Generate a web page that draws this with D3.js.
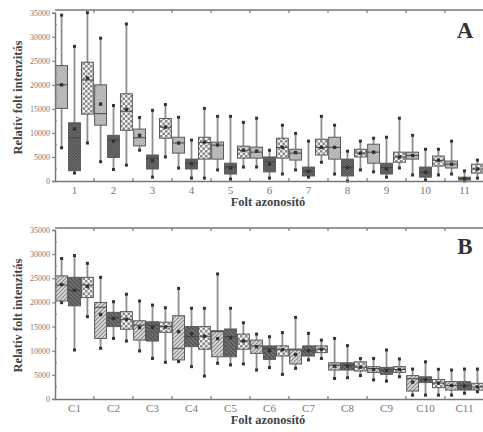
<!DOCTYPE html>
<html><head><meta charset="utf-8">
<script src="https://cdn.jsdelivr.net/npm/d3@7"></script>
<style>body{margin:0;background:#fff}svg{display:block}text{font-family:"Liberation Serif","DejaVu Serif",serif}</style>
</head><body>
<svg id="c" width="483" height="432"></svg>
<script>
// ---- data ----
// each box: [min, q1, median, q3, max, mean]
const categoriesA = ["1","2","3","4","5","6","7","8","9","10","11"];
const categoriesB = ["C1","C2","C3","C4","C5","C6","C7","C8","C9","C10","C11"];
const yTicks = [0,5000,10000,15000,20000,25000,30000,35000];

const seriesA1 = [
 [6900,15100,20000,24000,34500,20000],[4000,11600,14000,20000,29700,16000],[6400,7300,9000,10800,13200,9500],
 [2700,5800,7900,9100,13250,7900],[2300,4550,7450,8100,13450,7500],[2900,4750,6000,7050,13050,6200],
 [2300,4350,5800,6600,9900,5900],[1450,4550,7000,9100,11600,7000],[1900,3700,6000,7650,8900,6000],
 [1250,4550,5300,6000,9500,5300],[1450,2700,3500,4150,8300,3500]];
const seriesA2 = [
 [1650,2150,9000,12100,28000,10800],[2400,4900,8500,9500,15700,8300],[800,2500,4700,5400,14700,4200],
 [600,2500,3700,4550,8500,3600],[400,1450,2900,3700,13450,2700],[600,1900,4000,5000,6400,3500],
 [800,1050,2000,2900,8300,2000],[0,1050,2800,4550,6200,2800],[800,1450,2800,3700,9100,2500],
 [200,800,1800,2900,6600,1800],[0,200,500,800,2100,500]];
const seriesA3 = [
 [7900,13900,21000,24700,35000,21400],[3300,10550,14500,18150,32650,14900],[5000,8900,11200,13000,15900,11200],
 [600,4550,8000,9100,15100,8100],[2900,4750,6400,7250,12200,6400],[1450,4750,7000,8900,11600,7000],
 [3900,5400,7000,8700,13450,7000],[2300,5000,5800,6600,8300,5800],[2700,3900,5000,6000,13050,5000],
 [1250,3100,4300,5200,6600,4300],[600,1650,2500,3500,4350,2500]];

const seriesB1 = [
 [19950,20300,23600,25500,29100,23700],[10500,12550,19000,20000,25200,17500],[9950,12200,15300,16200,20300,14800],
 [7750,8100,10500,17250,22900,13950],[7400,8750,13950,14150,25900,12500],[6000,9450,11000,12200,13450,10800],
 [6350,7250,10150,10350,16900,9200],[4250,6000,7000,7500,12550,6800],[3950,5500,6300,6700,8400,6100],
 [800,1650,4200,4850,6200,3500],[800,1850,2800,3600,6000,2800]];
const seriesB2 = [
 [10150,19300,22500,25200,29700,22500],[12550,15000,16800,17950,20150,16700],[8400,12000,15300,16000,19450,14800],
 [6700,10850,12900,15000,18800,13500],[7050,8750,12900,14500,18800,12700],[6500,8200,10500,11000,12900,10000],
 [8100,8900,10000,11000,13600,10000],[4400,6000,7000,7500,11050,6800],[3700,5100,6000,6550,10150,5900],
 [800,3400,4000,4600,7700,4000],[1200,1850,2800,3600,6200,2700]];
const seriesB3 = [
 [17050,21000,23600,25200,28100,23300],[12000,14450,16500,18100,21700,16500],[7600,13800,15000,15900,18900,14900],
 [4750,10300,13000,15000,18800,13000],[7250,10300,12000,13450,15800,12000],[5100,8900,10200,11000,13750,10200],
 [8400,9600,10300,11000,12200,10300],[4850,5800,6600,7700,8400,6600],[4600,5500,6100,6700,8300,6100],
 [800,2350,3300,4050,6150,3300],[1500,1850,2500,3250,6200,2500]];

// ---- drawing ----
const svg = d3.select("#c");
const defs = svg.append("defs");

function patChecker(id, bg, fg, s){
  const p = defs.append("pattern").attr("id",id).attr("patternUnits","userSpaceOnUse").attr("width",s*2).attr("height",s*2);
  p.append("rect").attr("width",s*2).attr("height",s*2).attr("fill",bg);
  p.append("rect").attr("width",s).attr("height",s).attr("fill",fg);
  p.append("rect").attr("x",s).attr("y",s).attr("width",s).attr("height",s).attr("fill",fg);
}
function patHatch(id, bg, fg, dir){
  const p = defs.append("pattern").attr("id",id).attr("patternUnits","userSpaceOnUse").attr("width",4).attr("height",4);
  p.append("rect").attr("width",4).attr("height",4).attr("fill",bg);
  const d = dir>0 ? "M-1,1 L1,-1 M0,4 L4,0 M3,5 L5,3" : "M-1,3 L1,5 M0,0 L4,4 M3,-1 L5,1";
  p.append("path").attr("d",d).attr("stroke",fg).attr("stroke-width",1.1);
}
patChecker("pA1","#c8c8c8","#a9a9a9",1.5);
patChecker("pA2","#707070","#4e4e4e",1.5);
patChecker("pChk","#f4f4f4","#8a8a8a",2.5);
patHatch("pB1","#dadada","#8a8a8a",1);
patHatch("pB2","#747474","#4a4a4a",-1);

const left = 55, right = 484;

function panel(cfg){
  const {cats, series, fills, top, y0, y35, letter, letterY} = cfg;
  const g = svg.append("g");
  const x = d3.scaleBand().domain(cats).range([left, right]).padding(0);
  const xs = d3.scaleBand().domain([0,1,2]).range([0, x.bandwidth()]).paddingInner(0.08).paddingOuter(0.05);
  const y = d3.scaleLinear().domain([0,35000]).range([y0, y35]);

  // frame (top line)
  g.append("line").attr("x1",left).attr("x2",right).attr("y1",top).attr("y2",top).attr("stroke","#777").attr("stroke-width",1.5);
  g.append("line").attr("x1",right).attr("x2",right).attr("y1",top).attr("y2",y0).attr("stroke","#777").attr("stroke-width",1.5);

  // boundary ticks
  const bounds = d3.range(1, cats.length).map(i => x(cats[i]));
  g.selectAll(null).data(bounds).join("line").attr("x1",d=>d).attr("x2",d=>d).attr("y1",y0).attr("y2",y0-3).attr("stroke","#777").attr("stroke-width",1.2);
  g.selectAll(null).data(bounds).join("line").attr("x1",d=>d).attr("x2",d=>d).attr("y1",top).attr("y2",top+3).attr("stroke","#777").attr("stroke-width",1.2);

  // boxes
  series.forEach((ser, si) => {
    ser.forEach((d, ci) => {
      const bx = x(cats[ci]) + xs(si), bw = xs.bandwidth(), cx = bx + bw/2;
      const [mn,q1,md,q3,mx,mean] = d;
      g.append("line").attr("x1",cx).attr("x2",cx).attr("y1",y(mn)).attr("y2",y(mx)).attr("stroke","#8e8e8e").attr("stroke-width",1.8);
      g.append("rect").attr("x",bx).attr("y",y(q3)).attr("width",bw).attr("height",Math.max(1,y(q1)-y(q3)))
        .attr("fill",`url(#${fills[si]})`).attr("stroke","#5a5a5a").attr("stroke-width",1);
      g.append("line").attr("x1",bx).attr("x2",bx+bw).attr("y1",y(md)).attr("y2",y(md)).attr("stroke","#444").attr("stroke-width",1);
      [mn,mx].forEach(v => g.append("rect").attr("x",cx-1.5).attr("y",y(v)-1.5).attr("width",3).attr("height",3).attr("fill","#333"));
      g.append("rect").attr("x",cx-1.7).attr("y",y(mean)-1.7).attr("width",3.4).attr("height",3.4).attr("fill","#333");
    });
  });

  // y axis
  const ya = g.append("g").attr("transform",`translate(${left},0)`)
    .call(d3.axisLeft(y).tickValues(yTicks).tickSize(3).tickPadding(2).tickFormat(d3.format("d")));
  ya.select(".domain").attr("stroke","#777").attr("stroke-width",1.5);
  ya.selectAll(".tick line").attr("stroke","#777");
  ya.selectAll("text").attr("font-size",8).attr("fill","#777");
  const minor = d3.range(2500, 35000, 5000);
  g.selectAll(null).data(minor).join("line").attr("x1",left).attr("x2",left+2).attr("y1",d=>y(d)).attr("y2",d=>y(d)).attr("stroke","#888");

  // x axis
  const xa = g.append("g").attr("transform",`translate(0,${y0})`)
    .call(d3.axisBottom(x).tickSize(0).tickPadding(5));
  xa.select(".domain").attr("stroke","#777").attr("stroke-width",1.5);
  xa.selectAll("text").attr("font-size",11).attr("fill","#777");

  // titles
  g.append("text").attr("transform",`translate(22,${(top+y0)/2+2}) rotate(-90)`).attr("text-anchor","middle")
    .attr("font-size",12.5).attr("font-weight","bold").attr("fill","#444").text("Relatív folt intenzitás");
  g.append("text").attr("x",268).attr("y",y0+25).attr("text-anchor","middle")
    .attr("font-size",12.5).attr("font-weight","bold").attr("fill","#444").text("Folt azonosító");
  g.append("text").attr("x",465).attr("y",letterY).attr("text-anchor","middle")
    .attr("font-size",23).attr("font-weight","bold").attr("fill","#333").text(letter);
}

panel({cats:categoriesA, series:[seriesA1,seriesA2,seriesA3], fills:["pA1","pA2","pChk"], top:10, y0:181, y35:12.7, letter:"A", letterY:38});
panel({cats:categoriesB, series:[seriesB1,seriesB2,seriesB3], fills:["pB1","pB2","pChk"], top:228, y0:399, y35:230, letter:"B", letterY:254});
</script>
</body></html>
